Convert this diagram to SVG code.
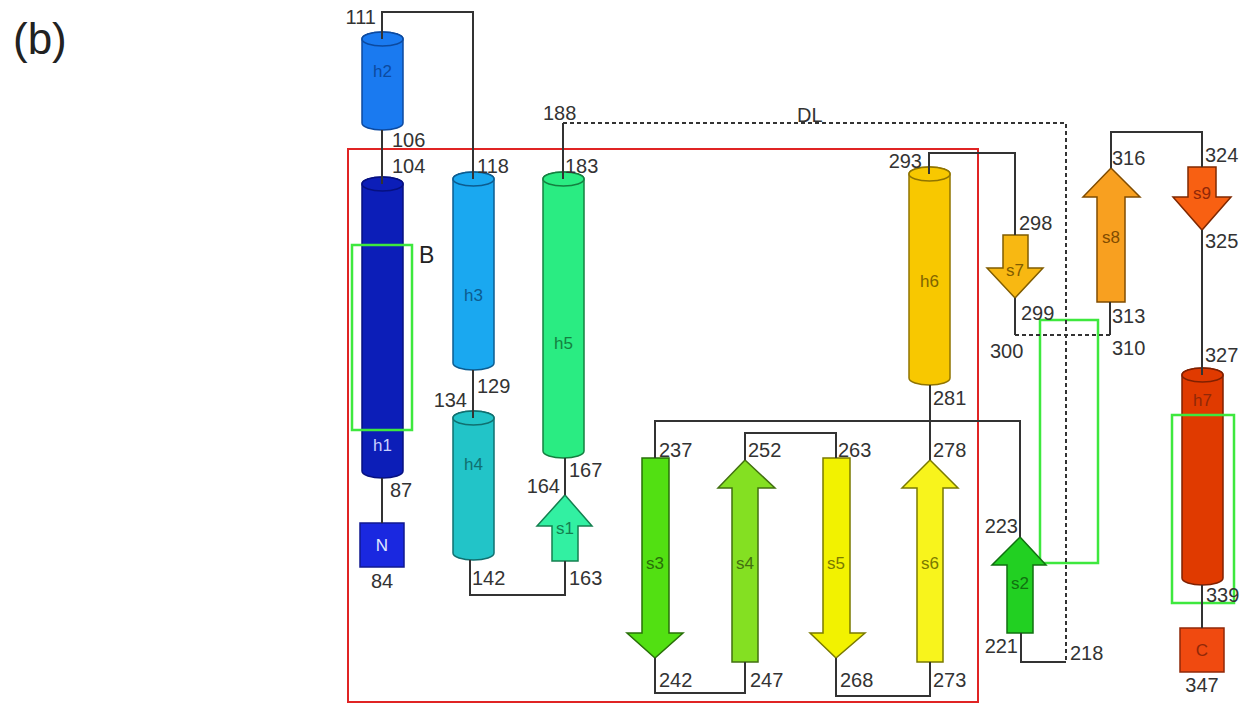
<svg xmlns="http://www.w3.org/2000/svg" width="1253" height="704" viewBox="0 0 1253 704">
<style>
.num{font-family:"Liberation Sans",Arial,sans-serif;font-size:20px;fill:#333}
.lbl{font-family:"Liberation Sans",Arial,sans-serif;font-size:17px;text-anchor:middle;dominant-baseline:central}
.ln{fill:none;stroke:#333;stroke-width:2}
.dash{fill:none;stroke:#333;stroke-width:2;stroke-dasharray:4 3}
.gbox{fill:none;stroke:#3ee83e;stroke-width:2.5}
.shape{stroke-width:1.5}
</style>
<rect width="1253" height="704" fill="#fff"/>
<text x="13" y="54" font-family="Liberation Sans,Arial,sans-serif" font-size="44" fill="#222">(b)</text>
<rect id="domain" x="348" y="149" width="630" height="553" fill="none" stroke="#e02424" stroke-width="2"/>
<rect id="box-mid" class="gbox" x="1040" y="320" width="58" height="243"/>

<g id="N"><rect x="360" y="523" width="44" height="44" fill="#1a28e0" stroke="#101890" class="shape"/><text class="lbl" x="382" y="545" fill="#e0e8ff">N</text></g>
<g id="C"><rect x="1180" y="628" width="44" height="44" fill="#f04a10" stroke="#902808" class="shape"/><text class="lbl" x="1202" y="650" fill="#902808">C</text></g>

<g id="h2"><path class="shape" d="M362,39 V123 A20.5,7 0 0 0 403,123 V39 A20.5,7 0 0 0 362,39 Z" fill="#1a7af0" stroke="#0c4aa0"/><ellipse cx="382.5" cy="39" rx="20.5" ry="7" fill="#1a7af0" stroke="#0c4aa0" class="shape"/><text class="lbl" x="382.5" y="71" fill="#0c4aa0">h2</text></g>
<g id="h1"><path class="shape" d="M362,184 V471 A20.5,7 0 0 0 403,471 V184 A20.5,7 0 0 0 362,184 Z" fill="#0c1eb8" stroke="#061080"/><ellipse cx="382.5" cy="184" rx="20.5" ry="7" fill="#0c1eb8" stroke="#061080" class="shape"/><text class="lbl" x="382.5" y="445" fill="#c8d0ff">h1</text></g>
<g id="h3"><path class="shape" d="M453,179 V363 A20.5,7 0 0 0 494,363 V179 A20.5,7 0 0 0 453,179 Z" fill="#1aa8f0" stroke="#0c5c90"/><ellipse cx="473.5" cy="179" rx="20.5" ry="7" fill="#1aa8f0" stroke="#0c5c90" class="shape"/><text class="lbl" x="473.5" y="295" fill="#0c5c90">h3</text></g>
<g id="h4"><path class="shape" d="M453,418 V553 A20.5,7 0 0 0 494,553 V418 A20.5,7 0 0 0 453,418 Z" fill="#22c4c8" stroke="#107070"/><ellipse cx="473.5" cy="418" rx="20.5" ry="7" fill="#22c4c8" stroke="#107070" class="shape"/><text class="lbl" x="473.5" y="464" fill="#107070">h4</text></g>
<g id="h5"><path class="shape" d="M543,179 V451 A20.5,7 0 0 0 584,451 V179 A20.5,7 0 0 0 543,179 Z" fill="#2aec82" stroke="#148040"/><ellipse cx="563.5" cy="179" rx="20.5" ry="7" fill="#2aec82" stroke="#148040" class="shape"/><text class="lbl" x="563.5" y="343" fill="#148040">h5</text></g>
<g id="h6"><path class="shape" d="M909,174 V378 A20.5,7 0 0 0 950,378 V174 A20.5,7 0 0 0 909,174 Z" fill="#f8c800" stroke="#907400"/><ellipse cx="929.5" cy="174" rx="20.5" ry="7" fill="#f8c800" stroke="#907400" class="shape"/><text class="lbl" x="929.5" y="281" fill="#806400">h6</text></g>
<g id="h7"><path class="shape" d="M1182,375 V578 A20.5,7 0 0 0 1223,578 V375 A20.5,7 0 0 0 1182,375 Z" fill="#e03a00" stroke="#802000"/><ellipse cx="1202.5" cy="375" rx="20.5" ry="7" fill="#e03a00" stroke="#802000" class="shape"/><text class="lbl" x="1202.5" y="400" fill="#902808">h7</text></g>

<g id="s1"><path class="shape" d="M565,495 L592,526 L578,526 L578,561 L552,561 L552,526 L537,526 Z" fill="#32f0a2" stroke="#148050"/><text class="lbl" x="565" y="528" fill="#148050">s1</text></g>
<g id="s2"><path class="shape" d="M1020,537 L1046,565 L1033,565 L1033,633 L1007,633 L1007,565 L992,565 Z" fill="#22d022" stroke="#107010"/><text class="lbl" x="1020" y="583" fill="#107010">s2</text></g>
<g id="s3"><path class="shape" d="M642,458 L669,458 L669,633 L683,633 L655,658 L627,633 L642,633 Z" fill="#52e012" stroke="#287008"/><text class="lbl" x="655" y="563" fill="#287008">s3</text></g>
<g id="s4"><path class="shape" d="M745,460 L775,488 L758,488 L758,662 L732,662 L732,488 L718,488 Z" fill="#84e022" stroke="#427010"/><text class="lbl" x="745" y="563" fill="#427010">s4</text></g>
<g id="s5"><path class="shape" d="M823,458 L850,458 L850,633 L865,633 L836,658 L810,633 L823,633 Z" fill="#f2f200" stroke="#7a7a00"/><text class="lbl" x="836" y="563" fill="#7a7a00">s5</text></g>
<g id="s6"><path class="shape" d="M930,460 L958,488 L943,488 L943,662 L917,662 L917,488 L902,488 Z" fill="#f8f41c" stroke="#7a7a00"/><text class="lbl" x="930" y="563" fill="#7a7a00">s6</text></g>
<g id="s7"><path class="shape" d="M1003,235 L1028,235 L1028,268 L1043,268 L1015,298 L987,268 L1003,268 Z" fill="#f8b812" stroke="#805c00"/><text class="lbl" x="1015" y="270" fill="#805c00">s7</text></g>
<g id="s8"><path class="shape" d="M1111,168 L1140,197 L1125,197 L1125,302 L1097,302 L1097,197 L1083,197 Z" fill="#f8a020" stroke="#804c00"/><text class="lbl" x="1111" y="237" fill="#804c00">s8</text></g>
<g id="s9"><path class="shape" d="M1188,167 L1216,167 L1216,197 L1231,197 L1202,230 L1173,197 L1188,197 Z" fill="#f86012" stroke="#802800"/><text class="lbl" x="1202" y="193" fill="#902808">s9</text></g>

<rect id="box-B" class="gbox" x="352" y="245" width="60" height="185"/>
<rect id="box-h7" class="gbox" x="1172" y="415" width="62" height="188"/>

<g id="connectors">
<path class="ln" d="M382,523 V478"/>
<path class="ln" d="M382,184 V130"/>
<path class="ln" d="M382,39 V12 H473 V179"/>
<path class="ln" d="M473,370 V418"/>
<path class="ln" d="M470,560 V595 H565 V561"/>
<path class="ln" d="M565,495 V458"/>
<path class="ln" d="M563,179 V123"/>
<path class="dash" d="M563,123 H1066 V662"/>
<path class="ln" d="M1066,662 H1021 V633"/>
<path class="ln" d="M1020,537 V421 H655 V458"/>
<path class="ln" d="M655,658 V693 H745 V662"/>
<path class="ln" d="M745,460 V433 H836 V458"/>
<path class="ln" d="M836,658 V696 H930 V662"/>
<path class="ln" d="M930,460 V385"/>
<path class="ln" d="M929,174 V153 H1015 V235"/>
<path class="ln" d="M1015,298 V335"/>
<path class="dash" d="M1015,335 H1110"/>
<path class="ln" d="M1110,335 V302"/>
<path class="ln" d="M1111,168 V132 H1202 V167"/>
<path class="ln" d="M1202,230 V375"/>
<path class="ln" d="M1202,585 V628"/>
</g>

<g id="labels">
<text class="num" x="376" y="24" text-anchor="end">111</text>
<text class="num" x="392" y="147">106</text>
<text class="num" x="392" y="173">104</text>
<text class="num" x="477" y="173">118</text>
<text class="num" x="565" y="173">183</text>
<text class="num" x="543" y="120">188</text>
<text class="num" x="797" y="122">DL</text>
<text x="419" y="263" font-family="Liberation Sans,Arial,sans-serif" font-size="23" fill="#222">B</text>
<text class="num" x="477" y="393">129</text>
<text class="num" x="467" y="407" text-anchor="end">134</text>
<text class="num" x="390" y="497">87</text>
<text class="num" x="382" y="588" text-anchor="middle">84</text>
<text class="num" x="472" y="585">142</text>
<text class="num" x="569" y="585">163</text>
<text class="num" x="569" y="477">167</text>
<text class="num" x="560" y="493" text-anchor="end">164</text>
<text class="num" x="659" y="457">237</text>
<text class="num" x="748" y="457">252</text>
<text class="num" x="838" y="457">263</text>
<text class="num" x="933" y="457">278</text>
<text class="num" x="933" y="405">281</text>
<text class="num" x="659" y="687">242</text>
<text class="num" x="750" y="687">247</text>
<text class="num" x="840" y="687">268</text>
<text class="num" x="933" y="687">273</text>
<text class="num" x="922" y="168" text-anchor="end">293</text>
<text class="num" x="1019" y="230">298</text>
<text class="num" x="1021" y="320">299</text>
<text class="num" x="990" y="358">300</text>
<text class="num" x="1112" y="323">313</text>
<text class="num" x="1112" y="355">310</text>
<text class="num" x="1112" y="165">316</text>
<text class="num" x="1205" y="162">324</text>
<text class="num" x="1205" y="248">325</text>
<text class="num" x="1205" y="362">327</text>
<text class="num" x="1206" y="602">339</text>
<text class="num" x="1202" y="692" text-anchor="middle">347</text>
<text class="num" x="1018" y="533" text-anchor="end">223</text>
<text class="num" x="1018" y="653" text-anchor="end">221</text>
<text class="num" x="1070" y="660">218</text>
</g>
</svg>
